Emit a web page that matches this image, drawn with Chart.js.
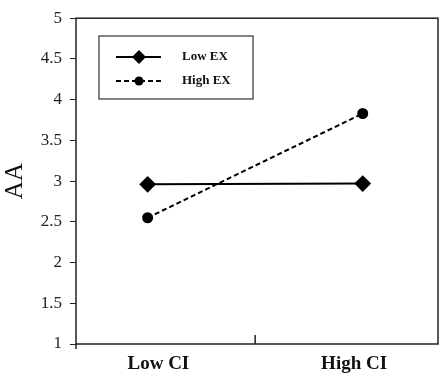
<!DOCTYPE html>
<html>
<head>
<meta charset="utf-8">
<script src="https://cdn.jsdelivr.net/npm/chart.js@4"></script>
<style>
  html, body { margin: 0; padding: 0; background: #fff; }
  #wrap { width: 447px; height: 379px; }
</style>
</head>
<body>
<div id="wrap"><canvas id="chart" width="447" height="379"></canvas></div>
<script>
// categories sit at x = 1 and x = 2 on a linear axis
const categories = ['Low CI', 'High CI'];
const categoryPos = [1, 2];
// labels in the original are printed a little off the point positions
const labelPos = [1.05, 1.96];
const lowEX = [2.96, 2.97];
const highEX = [2.55, 3.83];
const yTicks = [1, 1.5, 2, 2.5, 3, 3.5, 4, 4.5, 5];

const serif = "'Liberation Serif', 'DejaVu Serif', serif";

function toPoints(values) {
    return values.map((v, i) => ({ x: categoryPos[i], y: v }));
}

// full frame around the plot plus the little x-axis marks
const framePlugin = {
    id: 'frame',
    afterDraw(chart) {
        const { ctx, chartArea: a, scales } = chart;
        ctx.save();
        ctx.strokeStyle = '#222';
        ctx.lineWidth = 1.5;
        ctx.strokeRect(a.left, a.top, a.right - a.left, a.bottom - a.top);
        const mid = scales.x.getPixelForValue(1.5);
        ctx.beginPath();
        ctx.moveTo(mid, a.bottom);
        ctx.lineTo(mid, a.bottom - 9);
        ctx.moveTo(a.left, a.bottom);
        ctx.lineTo(a.left, a.bottom + 5);
        ctx.stroke();
        ctx.restore();
    }
};

// boxed legend inside the plot, upper left
const boxLegend = {
    id: 'boxLegend',
    afterDraw(chart) {
        const ctx = chart.ctx;
        const bx = 99, by = 36, bw = 154, bh = 63;
        ctx.save();
        ctx.strokeStyle = '#333';
        ctx.lineWidth = 1.2;
        ctx.strokeRect(bx, by, bw, bh);
        const rows = [57, 81];
        chart.data.datasets.forEach((ds, i) => {
            const y = rows[i];
            ctx.strokeStyle = '#000';
            ctx.lineWidth = ds.borderWidth;
            ctx.setLineDash(ds.borderDash || []);
            ctx.beginPath();
            ctx.moveTo(116, y);
            ctx.lineTo(161, y);
            ctx.stroke();
            ctx.setLineDash([]);
            ctx.fillStyle = '#000';
            ctx.beginPath();
            if (ds.pointStyle === 'rectRot') {
                const r = 7;
                ctx.moveTo(139, y - r);
                ctx.lineTo(139 + r, y);
                ctx.lineTo(139, y + r);
                ctx.lineTo(139 - r, y);
                ctx.closePath();
            } else {
                ctx.arc(139, y, 4.5, 0, Math.PI * 2);
            }
            ctx.fill();
            ctx.font = 'bold 13px ' + serif;
            ctx.textBaseline = 'middle';
            ctx.textAlign = 'left';
            ctx.fillStyle = '#111';
            ctx.fillText(ds.label, 182, y);
        });
        ctx.restore();
    }
};

new Chart(document.getElementById('chart'), {
    type: 'line',
    data: {
        datasets: [
            {
                label: 'Low EX',
                data: toPoints(lowEX),
                borderColor: '#000',
                backgroundColor: '#000',
                borderWidth: 2,
                pointStyle: 'rectRot',
                pointRadius: 7,
                pointHoverRadius: 7
            },
            {
                label: 'High EX',
                data: toPoints(highEX),
                borderColor: '#000',
                backgroundColor: '#000',
                borderWidth: 2,
                borderDash: [5, 3],
                pointStyle: 'circle',
                pointRadius: 4.5,
                pointHoverRadius: 4.5
            }
        ]
    },
    options: {
        responsive: false,
        animation: false,
        layout: { padding: { top: 13, right: 8, left: 0, bottom: 0 } },
        plugins: {
            legend: { display: false },
            tooltip: { enabled: false }
        },
        scales: {
            x: {
                type: 'linear',
                min: 0.667,
                max: 2.35,
                afterBuildTicks(scale) {
                    scale.ticks = labelPos.map(v => ({ value: v }));
                },
                afterFit(scale) { scale.height = 35; },
                grid: { display: false },
                border: { display: false },
                ticks: {
                    padding: 1,
                    color: '#111',
                    font: { family: serif, size: 19, weight: 'bold' },
                    callback: (v) => categories[labelPos.indexOf(v)] || ''
                }
            },
            y: {
                min: 1,
                max: 5,
                afterBuildTicks(scale) {
                    scale.ticks = yTicks.map(v => ({ value: v }));
                },
                afterFit(scale) { scale.width = 76; },
                grid: { drawOnChartArea: false, tickLength: 6, color: '#222' },
                border: { display: false },
                ticks: {
                    padding: 8,
                    color: '#222',
                    font: { family: serif, size: 17 },
                    callback: (v) => String(v)
                },
                title: {
                    display: true,
                    text: 'AA',
                    color: '#111',
                    padding: { top: 0, bottom: 2 },
                    font: { family: serif, size: 25 }
                }
            }
        }
    },
    plugins: [framePlugin, boxLegend]
});
</script>
</body>
</html>
